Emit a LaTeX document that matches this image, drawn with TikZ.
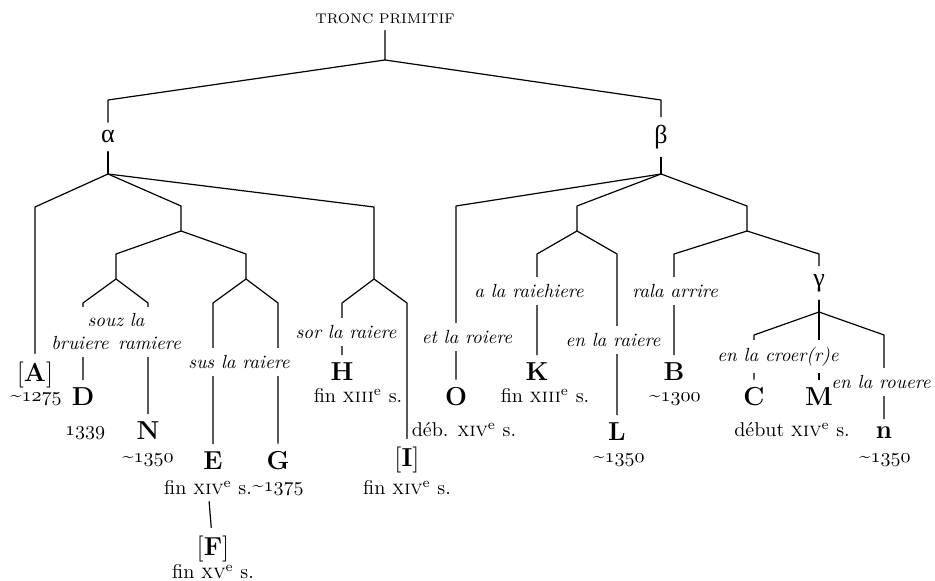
\documentclass[tikz,border=0pt]{standalone}
\usepackage{fontspec}
\newfontfamily\grecque{Liberation Serif}
\newcommand{\an}[1]{$\mathnormal{#1}$}
\newcommand{\env}[1]{\textasciitilde\an{#1}}
\newcommand{\siecle}[1]{\textsc{#1}\textsuperscript{e}~s.}
\newcommand{\perdu}[1]{{\mdseries[}#1{\mdseries]}}
\tikzset{
  trait/.style={line width=0.6pt},
  racine/.style={font=\fontsize{7}{9}\selectfont, inner sep=3pt},
  ms/.style={font=\fontsize{13}{15}\selectfont\bfseries, inner sep=4pt},
  datum/.style={font=\fontsize{10}{12}\selectfont, inner sep=3pt},
  lecon/.style={font=\fontsize{9.5}{11.5}\selectfont\itshape, fill=white, inner xsep=1pt, inner ysep=3.5pt, align=center},
  fam/.style={font=\fontsize{13}{15}\selectfont\grecque, inner sep=4pt}
}
\begin{document}
\begin{tikzpicture}[x=0.5pt,y=-0.5pt,line cap=round,line join=round]
\useasboundingbox (0,0) rectangle (935,581);
\node[racine] (tronc) at (385,19) {TRONC PRIMITIF};
\node[fam] (alpha) at (108,137) {α};
\node[fam] (beta) at (661,137) {β};
\node[fam] (gamma) at (819,283) {γ};
\coordinate (r) at (385,60);
\coordinate (ra) at (108,100);
\coordinate (rb) at (661,100);
\coordinate (fa) at (108,174);
\coordinate (ka) at (35,207);
\coordinate (k1) at (181,206);
\coordinate (f1) at (181,231);
\coordinate (k2) at (374,207);
\coordinate (f2) at (374,279);
\coordinate (k11) at (116,254);
\coordinate (f11) at (116,279);
\coordinate (k12) at (246,254);
\coordinate (f12) at (246,279);
\coordinate (kd) at (83,303);
\coordinate (kn) at (148,303);
\coordinate (ke) at (213,303);
\coordinate (kg) at (278,303);
\coordinate (kh) at (342,303);
\coordinate (ki) at (407,303);
\coordinate (fb) at (661,174);
\coordinate (ko) at (456,206);
\coordinate (k3) at (577,206);
\coordinate (f3) at (577,231);
\coordinate (kk) at (537,254);
\coordinate (kl) at (617,254);
\coordinate (k4) at (747,206);
\coordinate (f4) at (747,231);
\coordinate (kb) at (674,254);
\coordinate (kgam) at (819,254);
\coordinate (fc) at (819,312);
\coordinate (kc) at (754,335);
\coordinate (kr) at (884,335);
\node[ms] (mA) at (35,375) {\perdu{A}};
\node[ms] (mD) at (83,397) {D};
\node[ms] (mN) at (148,431) {N};
\node[ms] (mE) at (213,461) {E};
\node[ms] (mG) at (278,461) {G};
\node[ms] (mF) at (213,549) {\perdu{F}};
\node[ms] (mH) at (342,372) {H};
\node[ms] (mI) at (407,460) {\perdu{I}};
\node[ms] (mO) at (456,397) {O};
\node[ms] (mK) at (537,372) {K};
\node[ms] (mL) at (617,432) {L};
\node[ms] (mB) at (674,372) {B};
\node[ms] (mC) at (754,397) {C};
\node[ms] (mM) at (819,397) {M};
\node[ms] (mn) at (884,433) {n};
\node[datum] (dA) at (36,399) {\env{1275}};
\node[datum] (dD) at (85,433) {\an{1339}};
\node[datum] (dN) at (148,460) {\env{1350}};
\node[datum] (dE) at (208,488) {fin \siecle{xiv}};
\node[datum] (dG) at (278,489) {\env{1375}};
\node[datum] (dF) at (213,572) {fin \siecle{xv}};
\node[datum] (dH) at (358,396) {fin \siecle{xiii}};
\node[datum] (dI) at (407,488) {fin \siecle{xiv}};
\node[datum] (dO) at (464,430) {déb. \siecle{xiv}};
\node[datum] (dK) at (545,396) {fin \siecle{xiii}};
\node[datum] (dL) at (619,460) {\env{1350}};
\node[datum] (dB) at (675,399) {\env{1300}};
\node[datum] (dCM) at (792,430) {début \siecle{xiv}};
\node[datum] (dn) at (885,460) {\env{1350}};
\draw[trait] (tronc) -- (r) -- (ra) -- (alpha);
\draw[trait] (r) -- (rb) -- (beta);
\draw[trait] (alpha) -- (fa);
\draw[trait] (fa) -- (ka) -- (mA);
\draw[trait] (fa) -- (k1) -- (f1);
\draw[trait] (fa) -- (k2) -- (f2);
\draw[trait] (f1) -- (k11) -- (f11);
\draw[trait] (f1) -- (k12) -- (f12);
\draw[trait] (f11) -- (kd) -- (mD);
\draw[trait] (f11) -- (kn) -- (mN);
\draw[trait] (f12) -- (ke) -- (mE);
\draw[trait] (f12) -- (kg) -- (mG);
\draw[trait] (dE) -- (mF);
\draw[trait] (f2) -- (kh) -- (mH);
\draw[trait] (f2) -- (ki) -- (mI);
\draw[trait] (beta) -- (fb);
\draw[trait] (fb) -- (ko) -- (mO);
\draw[trait] (fb) -- (k3) -- (f3);
\draw[trait] (fb) -- (k4) -- (f4);
\draw[trait] (f3) -- (kk) -- (mK);
\draw[trait] (f3) -- (kl) -- (mL);
\draw[trait] (f4) -- (kb) -- (mB);
\draw[trait] (f4) -- (kgam) -- (gamma);
\draw[trait] (gamma) -- (fc);
\draw[trait] (fc) -- (kc) -- (mC);
\draw[trait] (fc) -- (mM);
\draw[trait] (fc) -- (kr) -- (mn);
\node[lecon] (lsouz) at (116,332) {souz la\\bruiere\hspace{0.5em}ramiere};
\node[lecon] (lsus) at (239,362) {sus la raiere};
\node[lecon] (lsor) at (346,332) {sor la raiere};
\node[lecon] (let) at (467,337) {et la roiere};
\node[lecon] (lraie) at (529,291) {a la raiehiere};
\node[lecon] (lenr) at (613,340) {en la raiere};
\node[lecon] (lrala) at (675,291) {rala arrire};
\node[lecon] (lcroer) at (778,357) {en la croer(r)e};
\node[lecon] (lrou) at (881,382) {en la rouere};
\end{tikzpicture}
\end{document}
